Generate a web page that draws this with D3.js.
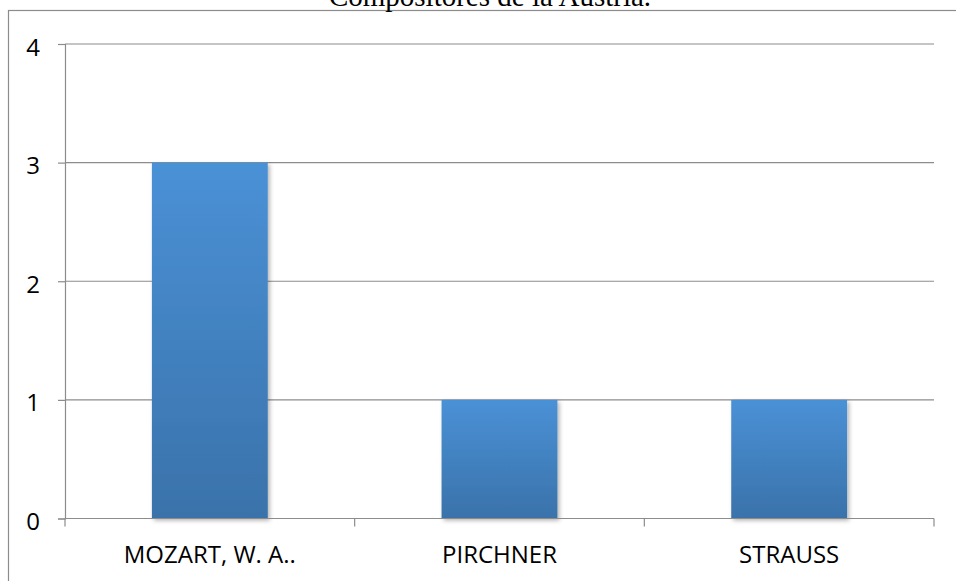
<!DOCTYPE html>
<html>
<head>
<meta charset="utf-8">
<script src="https://cdn.jsdelivr.net/npm/d3@7"></script>
<style>
  html, body { margin: 0; padding: 0; background: #fff; }
  svg { display: block; }
</style>
</head>
<body>
<div id="chart"></div>
<script>
const WIDTH = 956;
const HEIGHT = 581;

const TITLE = "Compositores de la Austria.";
const categories = ["MOZART, W. A..", "PIRCHNER", "STRAUSS"];
const values = [3, 1, 1];
const yTicks = [0, 1, 2, 3, 4];

const margin = { top: 44, right: 22, bottom: 62, left: 65 };
const plotW = 934 - margin.left;
const plotH = 518.5 - margin.top;

const svg = d3.select("#chart").append("svg")
  .attr("width", WIDTH)
  .attr("height", HEIGHT);

const defs = svg.append("defs");
const grad = defs.append("linearGradient")
  .attr("id", "barGrad")
  .attr("x1", 0).attr("y1", 0).attr("x2", 0).attr("y2", 1);
grad.append("stop").attr("offset", "0%").attr("stop-color", "#4a91d6");
grad.append("stop").attr("offset", "100%").attr("stop-color", "#3a72aa");

const shadow = defs.append("filter").attr("id", "shadow")
  .attr("x", "-10%").attr("y", "-10%").attr("width", "130%").attr("height", "130%");
shadow.append("feDropShadow")
  .attr("dx", 2).attr("dy", 2).attr("stdDeviation", 2)
  .attr("flood-color", "#000").attr("flood-opacity", 0.3);

// outer frame (runs off the right and bottom of the page)
svg.append("rect")
  .attr("x", 8.5).attr("y", 10.5)
  .attr("width", 1200).attr("height", 1000)
  .attr("fill", "none")
  .attr("stroke", "#8c8c8c")
  .attr("stroke-width", 1.2);

// title, cut off at the top like the source
svg.append("text")
  .attr("x", 490).attr("y", 6)
  .attr("text-anchor", "middle")
  .attr("font-family", "Liberation Serif, Times New Roman, serif")
  .attr("font-size", 29)
  .attr("fill", "#000")
  .text(TITLE);

const g = svg.append("g").attr("transform", `translate(${margin.left},${margin.top})`);

const x = d3.scaleBand().domain(categories).range([0, plotW]).paddingInner(0.6).paddingOuter(0.3);
const y = d3.scaleLinear().domain([0, 4]).range([plotH, 0]);

// gridlines
g.append("g")
  .selectAll("line")
  .data(yTicks.filter(d => d > 0))
  .join("line")
  .attr("x1", 0).attr("x2", plotW)
  .attr("y1", d => y(d)).attr("y2", d => y(d))
  .attr("stroke", "#8c8c8c")
  .attr("stroke-width", 1.2);

// y axis
const yAxis = g.append("g")
  .call(d3.axisLeft(y).tickValues(yTicks).tickSize(7).tickPadding(18).tickFormat(d3.format("d")));
yAxis.select(".domain").attr("stroke", "#8c8c8c").attr("stroke-width", 1.2);
yAxis.selectAll(".tick line").attr("stroke", "#8c8c8c").attr("stroke-width", 1.2);
yAxis.selectAll(".tick text")
  .attr("dy", 11)
  .attr("font-family", "Open Sans, Lato, sans-serif")
  .attr("font-size", 24)
  .attr("fill", "#000");

// bars
g.append("g")
  .selectAll("rect")
  .data(categories)
  .join("rect")
  .attr("x", d => x(d))
  .attr("y", (d, i) => y(values[i]))
  .attr("width", x.bandwidth())
  .attr("height", (d, i) => y(0) - y(values[i]))
  .attr("fill", "url(#barGrad)")
  .attr("filter", "url(#shadow)");

// x axis with category boundary ticks
const step = plotW / categories.length;
const xAxisG = g.append("g").attr("transform", `translate(0,${plotH})`);
xAxisG.append("line")
  .attr("x1", 0).attr("x2", plotW)
  .attr("stroke", "#8c8c8c").attr("stroke-width", 1.2);
xAxisG.selectAll("line.tk")
  .data(d3.range(categories.length + 1))
  .join("line")
  .attr("class", "tk")
  .attr("x1", d => d * step).attr("x2", d => d * step)
  .attr("y1", 0).attr("y2", 8)
  .attr("stroke", "#8c8c8c").attr("stroke-width", 1.2);
xAxisG.selectAll("text")
  .data(categories)
  .join("text")
  .attr("x", d => x(d) + x.bandwidth() / 2)
  .attr("y", 44)
  .attr("text-anchor", "middle")
  .attr("font-family", "Open Sans, Lato, sans-serif")
  .attr("font-size", 24)
  .attr("fill", "#000")
  .text(d => d);
</script>
</body>
</html>
